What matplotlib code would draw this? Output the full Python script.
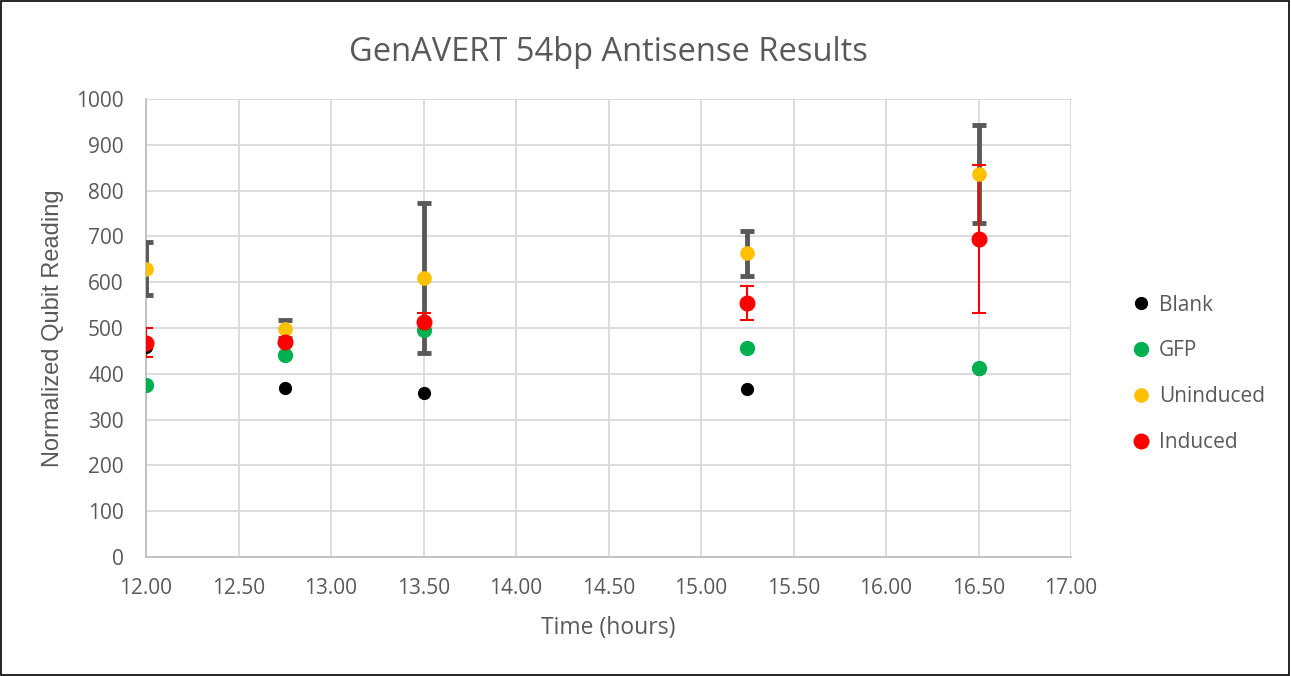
import matplotlib
matplotlib.use("Agg")
from matplotlib import pyplot as plt

# temps en heures
temps = [12.00, 12.75, 13.50, 15.25, 16.50]

blank = [458, 370, 359, 366, 410]
gfp = [375, 441, 496, 456, 412]
uninduced = [629, 498, 609, 663, 836]
induced = [468, 470, 514, 555, 694]

# barres d'erreur (symetriques approx.)
err_uninduced = [58, 19, 164, 49, 107]
err_induced = [32, 0, 18, 37, 162]

plt.rcParams['font.family'] = ['Open Sans', 'DejaVu Sans']
gris = '#595959'

fig = plt.figure(figsize=(12.91, 6.76), dpi=100)
ax = fig.add_axes([0.1131, 0.176, 0.8296 - 0.1131, 0.8536 - 0.176])

# barres d'erreur
ax.errorbar(temps, uninduced, yerr=err_uninduced, fmt='none', ecolor=gris,
            elinewidth=3.5, capsize=5, capthick=3.5, zorder=3)
ax.errorbar(temps, induced, yerr=err_induced, fmt='none', ecolor='#ff0000',
            elinewidth=1.5, capsize=5, capthick=1.5, zorder=4)

# points
ax.plot(temps, blank, 'o', color='#000000', markersize=8.5, label='Blank', zorder=5)
ax.plot(temps, gfp, 'o', color='#00b050', markersize=10, label='GFP', zorder=6)
ax.plot(temps, uninduced, 'o', color='#ffc000', markersize=9.5, label='Uninduced', zorder=7)
ax.plot(temps, induced, 'o', color='#ff0000', markersize=10.5, label='Induced', zorder=8)

ax.set_xlim(12, 17)
ax.set_ylim(0, 1000)
ax.set_xticks([12 + 0.5 * i for i in range(11)])
ax.set_xticklabels(['%.2f' % (12 + 0.5 * i) for i in range(11)])
ax.set_yticks(range(0, 1001, 100))
ax.grid(True, color='#d9d9d9', linewidth=1.3, zorder=0)
ax.set_axisbelow(True)
for s in ['top', 'right']:
    ax.spines[s].set_visible(False)
for s in ['left', 'bottom']:
    ax.spines[s].set_color('#bfbfbf')
    ax.spines[s].set_linewidth(1.3)
ax.tick_params(axis='x', length=0, labelsize=15, colors=gris, pad=15)
ax.tick_params(axis='y', length=0, labelsize=15, colors=gris, pad=16)

ax.set_title('GenAVERT 54bp Antisense Results', fontsize=23.5, color=gris, pad=27)
ax.set_xlabel('Time (hours)', fontsize=16.5, color=gris, labelpad=12)
ax.set_ylabel('Normalized Qubit Reading', fontsize=17, color=gris, labelpad=9,
              family=['Liberation Sans', 'DejaVu Sans'])

leg = ax.legend(loc='center left', bbox_to_anchor=(1.04, 0.40), frameon=False,
                fontsize=15, handletextpad=0.15, labelspacing=1.19, handlelength=1.4)
for t in leg.get_texts():
    t.set_color(gris)

# cadre noir autour de la figure
fig.patches.append(plt.Rectangle((0.0008, 0.0015), 0.998, 0.997, transform=fig.transFigure,
                                 fill=False, edgecolor='black', linewidth=1.2))

plt.savefig('out.png', dpi=100)
